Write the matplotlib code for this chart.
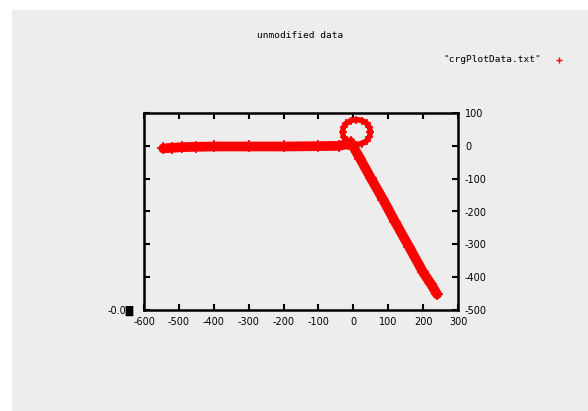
import matplotlib
matplotlib.use('Agg')
import matplotlib.pyplot as plt
from matplotlib.patches import Rectangle

# data (path vertices of the dense point cloud)
band_x = [-545, -520, -490, -450, -400, -300, -200, -100, -40, -14]
band_y = [-8, -6, -4, -3, -2, -2, -2, -1, 0, 6]

loop_x = [49, 46, 38, 25, 9, -7, -20, -28, -31, -28, -20, -7, 9, 25, 38, 46, 49]
loop_y = [42, 57, 69, 77, 80, 77, 69, 57, 42, 27, 15, 7, 4, 7, 15, 27, 42]

diag_x = [-8, 20, 50, 86, 120, 160, 200, 222, 240]
diag_y = [12, -40, -98, -165, -232, -308, -385, -420, -452]

x_ticks = [-600, -500, -400, -300, -200, -100, 0, 100, 200, 300]
y_ticks = [100, 0, -100, -200, -300, -400, -500]

plt.rcParams['axes.unicode_minus'] = False
bg = '#ededed'
W, H = 588, 411

fig = plt.figure(figsize=(W / 100, H / 100), dpi=100, facecolor='white')
fig.patches.append(Rectangle((12 / W, 0), 1 - 12 / W, 1 - 10 / H,
                             transform=fig.transFigure, facecolor=bg,
                             edgecolor='none', zorder=-10))

ax = fig.add_axes([144 / W, 1 - 310 / H, (458 - 144) / W, (310 - 113) / H])
ax.set_facecolor(bg)

red = '#ff0000'
ax.plot(band_x, band_y, color=red, lw=7.0, solid_capstyle='round',
        solid_joinstyle='round', marker='+', ms=8, mew=1.2)
ax.plot(loop_x, loop_y, color=red, lw=4.0, solid_capstyle='round',
        solid_joinstyle='round', marker='+', ms=5.5, mew=1.2)
ax.plot(diag_x, diag_y, color=red, lw=7.0, solid_capstyle='round',
        solid_joinstyle='round', marker='+', ms=8, mew=1.2)

ax.set_xlim(-600, 300)
ax.set_ylim(-500, 100)
ax.set_xticks(x_ticks)
ax.set_yticks(y_ticks)
ax.tick_params(axis='both', direction='in', length=4, width=1.5,
               labelsize=7, top=True, right=True, left=True, bottom=True,
               labelleft=False, labelright=True, pad=5)
for s in ax.spines.values():
    s.set_linewidth(1.8)
    s.set_color('black')

mono = 'DejaVu Sans Mono'
fig.text(300 / W, 1 - 35 / H, 'unmodified data', ha='center', va='center',
         fontsize=6.8, family=mono)
fig.text(541 / W, 1 - 60 / H, '"crgPlotData.txt"', ha='right', va='center',
         fontsize=6.8, family=mono)
fig.lines.append(plt.Line2D([559 / W], [1 - 60 / H], transform=fig.transFigure,
                            marker='+', color=red, ms=4, mew=1, ls='none'))
fig.text(134 / W, 1 - 311 / H, '-0.0\u2588', ha='right', va='center',
         fontsize=7, family='DejaVu Sans')

fig.savefig('out.png', dpi=100, facecolor=fig.get_facecolor())
